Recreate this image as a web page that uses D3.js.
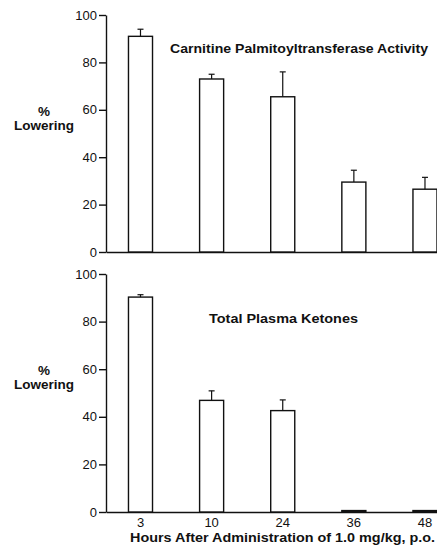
<!DOCTYPE html>
<html>
<head>
<meta charset="utf-8">
<script src="https://cdn.jsdelivr.net/npm/d3@7"></script>
<style>
  body { margin: 0; background: #fff; }
  svg text { font-family: "Liberation Sans", Arial, Helvetica, sans-serif; fill: #111; }
</style>
</head>
<body>
<svg id="chart" width="437" height="550"></svg>
<script>
// data
const hours = ['3', '10', '24', '36', '48'];
const cptMean = [91, 73, 65.5, 29.5, 26.5];
const cptErr = [3, 2, 10.5, 5, 5];
const ketMean = [90.3, 46.9, 42.6, 0.6, 0.6];
const ketErr = [1, 4, 4.5, 0, 0];
const yTicks = [0, 20, 40, 60, 80, 100];

const svg = d3.select('#chart');

const x = d3.scaleBand().domain(hours)
  .range([106, 437]).paddingInner(0.662).paddingOuter(0.158).align(1);

const panels = [
  { mean: cptMean, err: cptErr, top: 15, bottom: 252,
    title: 'Carnitine Palmitoyltransferase Activity', tx: 170, ty: 53, tw: 258, showX: false },
  { mean: ketMean, err: ketErr, top: 274, bottom: 512,
    title: 'Total Plasma Ketones', tx: 209, ty: 323, tw: 149, showX: true }
];

panels.forEach(p => {
  const y = d3.scaleLinear().domain([0, 100]).range([p.bottom, p.top]);
  const g = svg.append('g');

  // y axis
  const ya = g.append('g').attr('transform', 'translate(106,0)')
    .call(d3.axisLeft(y).tickValues(yTicks).tickSize(7).tickSizeOuter(0).tickPadding(2));
  ya.selectAll('path, line').attr('stroke', '#111').attr('stroke-width', 1.4);
  ya.selectAll('text').attr('font-size', 13).attr('fill', '#111');

  // x axis (baseline)
  const xa = g.append('g').attr('transform', `translate(0,${p.bottom})`)
    .call(d3.axisBottom(x).tickSize(0).tickSizeOuter(0).tickPadding(6));
  xa.select('path').attr('stroke', '#111').attr('stroke-width', 1.6);
  xa.selectAll('text').attr('font-size', 13).attr('fill', '#111')
    .style('display', p.showX ? null : 'none');

  // bars
  g.append('g').selectAll('rect').data(p.mean).join('rect')
    .attr('x', (d, i) => x(hours[i]))
    .attr('y', d => y(d))
    .attr('width', x.bandwidth())
    .attr('height', d => p.bottom - y(d))
    .attr('fill', d => d < 2 ? '#333' : '#fff')
    .attr('stroke', '#111').attr('stroke-width', 1.4);

  // error bars (upper only)
  const errs = p.mean.map((m, i) => ({ h: hours[i], m, e: p.err[i] })).filter(d => d.e > 0);
  const cx = d => x(d.h) + x.bandwidth() / 2;
  const eb = g.append('g').selectAll('g').data(errs).join('g');
  eb.append('line')
    .attr('x1', cx).attr('x2', cx)
    .attr('y1', d => y(d.m)).attr('y2', d => y(d.m + d.e))
    .attr('stroke', '#111').attr('stroke-width', 1.2);
  eb.append('line')
    .attr('x1', d => cx(d) - 3).attr('x2', d => cx(d) + 3)
    .attr('y1', d => y(d.m + d.e)).attr('y2', d => y(d.m + d.e))
    .attr('stroke', '#111').attr('stroke-width', 1.2);

  // panel title
  g.append('text').attr('x', p.tx).attr('y', p.ty)
    .attr('font-size', 13.5).attr('font-weight', 'bold')
    .attr('textLength', p.tw).attr('lengthAdjust', 'spacingAndGlyphs')
    .text(p.title);

  // y label
  const ymid = y(55);
  g.append('text').attr('x', 44).attr('y', ymid - 6).attr('text-anchor', 'middle')
    .attr('font-size', 13.5).attr('font-weight', 'bold').text('%');
  g.append('text').attr('x', 44).attr('y', ymid + 8).attr('text-anchor', 'middle')
    .attr('font-size', 13.5).attr('font-weight', 'bold').text('Lowering');
});

svg.append('text').attr('x', 130).attr('y', 542)
  .attr('font-size', 13.5).attr('font-weight', 'bold')
  .attr('textLength', 305).attr('lengthAdjust', 'spacingAndGlyphs')
  .text('Hours After Administration of 1.0 mg/kg, p.o.');
</script>
</body>
</html>
